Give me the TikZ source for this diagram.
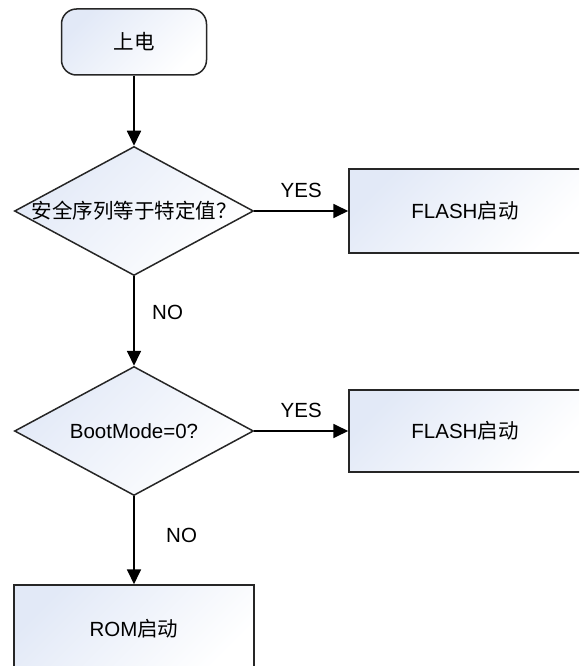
\documentclass[tikz,border=0pt]{standalone}
\usepackage{fontspec}
\setmainfont{Liberation Sans}
\newfontfamily\cjk{Noto Sans CJK SC}
\usetikzlibrary{shapes.geometric,arrows.meta}
\definecolor{boxtint}{RGB}{226,233,247}

\begin{document}
\begin{tikzpicture}[x=1pt,y=-1pt,
  font=\fontsize{20.5}{24}\selectfont,
  boxfill/.style={top color=boxtint, bottom color=white, shading angle=45},
  startbox/.style={draw=black!85, line width=1.5pt, rounded corners=15pt, boxfill,
    minimum width=145pt, minimum height=66pt, inner sep=0pt},
  decision/.style={diamond, draw=black!85, line width=1.5pt, boxfill,
    minimum width=239pt, minimum height=129pt, inner sep=0pt},
  process/.style={draw=black!85, line width=1.5pt, boxfill, inner sep=0pt},
  flow/.style={line width=1.8pt, -{Triangle[length=15pt,width=14pt]}}]
\useasboundingbox (0,0) rectangle (579,666);
\begin{scope}
\clip (0,0) rectangle (579,666);
\node[startbox] (power) at (134,42) {\cjk 上电};
\node[decision] (seq) at (134,211) {\makebox[0pt]{\cjk 安全序列等于特定值？}};
\node[process, minimum width=232pt, minimum height=84pt] (flashA) at (465,211) {FLASH{\cjk 启动}};
\node[decision] (boot) at (134,431) {\makebox[0pt]{BootMode=0?}};
\node[process, minimum width=232pt, minimum height=82pt] (flashB) at (465,431) {FLASH{\cjk 启动}};
\node[process, minimum width=240pt, minimum height=88pt] (rom) at (134,629) {ROM{\cjk 启动}};
\end{scope}

\draw[flow] (power) -- (seq);
\draw[flow] (seq) -- node[above=9pt] {YES} (flashA);
\draw[flow] (seq) -- node[pos=0.4, right=14pt] {NO} (boot);
\draw[flow] (boot) -- node[above=9pt] {YES} (flashB);
\draw[flow] (boot) -- node[pos=0.45, right=28pt] {NO} (rom);
\end{tikzpicture}
\end{document}
